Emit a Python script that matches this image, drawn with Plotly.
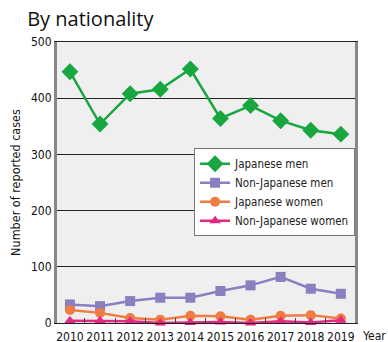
import plotly.graph_objects as go

years = [2010, 2011, 2012, 2013, 2014, 2015, 2016, 2017, 2018, 2019]
japanese_men = [447, 354, 408, 416, 452, 364, 387, 360, 343, 336]
non_japanese_men = [33, 30, 39, 45, 45, 57, 67, 82, 61, 52]
japanese_women = [23, 18, 9, 6, 13, 12, 6, 13, 14, 8]
non_japanese_women = [4, 4, 3, 0, 1, 2, 0, 3, 1, 5]
y_ticks = [0, 100, 200, 300, 400, 500]

series = [
    ("Japanese men", japanese_men, "#17a63f", "diamond", 13),
    ("Non-Japanese men", non_japanese_men, "#8b7fc0", "square", 10),
    ("Japanese women", japanese_women, "#ef7c42", "circle", 10),
    ("Non-Japanese women", non_japanese_women, "#e3287f", "triangle-up", 10),
]

narrow = "DejaVu Sans Condensed, Liberation Sans Narrow, sans-serif"

fig = go.Figure()
for name, vals, color, sym, size in series:
    fig.add_trace(go.Scatter(
        x=years, y=vals, name=name, mode="lines+markers",
        line=dict(color=color, width=2.5),
        marker=dict(symbol=sym, size=size, color=color),
        cliponaxis=False,
    ))

fig.update_layout(
    width=388, height=342,
    margin=dict(l=57, r=33, t=42, b=19, autoexpand=False),
    paper_bgcolor="white", plot_bgcolor="#efefef",
    title=dict(text="By nationality", x=0.07, xanchor="left", y=0.965, yanchor="top",
               xref="container", yref="container",
               font=dict(family="Open Sans, Liberation Sans, sans-serif", size=20, color="#111")),
    showlegend=True,
    legend=dict(x=0.46, y=0.622, xanchor="left", yanchor="top",
                bgcolor="white", bordercolor="#777", borderwidth=1,
                font=dict(family=narrow, size=11.5, color="#222"),
                tracegroupgap=0, itemwidth=30),
    xaxis=dict(range=[2009.57, 2019.47], tickvals=years, ticktext=[str(y) for y in years],
               ticks="", showgrid=False, zeroline=False, automargin=False,
               ticklabelstandoff=2,
               showline=True, linecolor="#222", linewidth=1.2, mirror=True,
               tickfont=dict(family=narrow, size=12, color="#111"),
               minor=dict(tick0=2009.5, dtick=1, ticks="inside", ticklen=5,
                          tickcolor="#444", tickwidth=1, showgrid=False)),
    yaxis=dict(range=[0, 500], tickvals=y_ticks, ticks="", showgrid=True,
               gridcolor="#222", gridwidth=1, zeroline=False, automargin=False,
               showline=True, linecolor="#888", linewidth=3, mirror=True,
               tickfont=dict(family=narrow, size=12, color="#111"),
               title=dict(text="Number of reported cases", standoff=8,
                          font=dict(family=narrow, size=12.5, color="#111"))),
    annotations=[dict(text="Year", xref="paper", yref="paper", x=1.11, y=-0.046,
                      xanchor="right", yanchor="middle", showarrow=False,
                      font=dict(family=narrow, size=12, color="#111"))],
)

fig.write_html("out.html")
